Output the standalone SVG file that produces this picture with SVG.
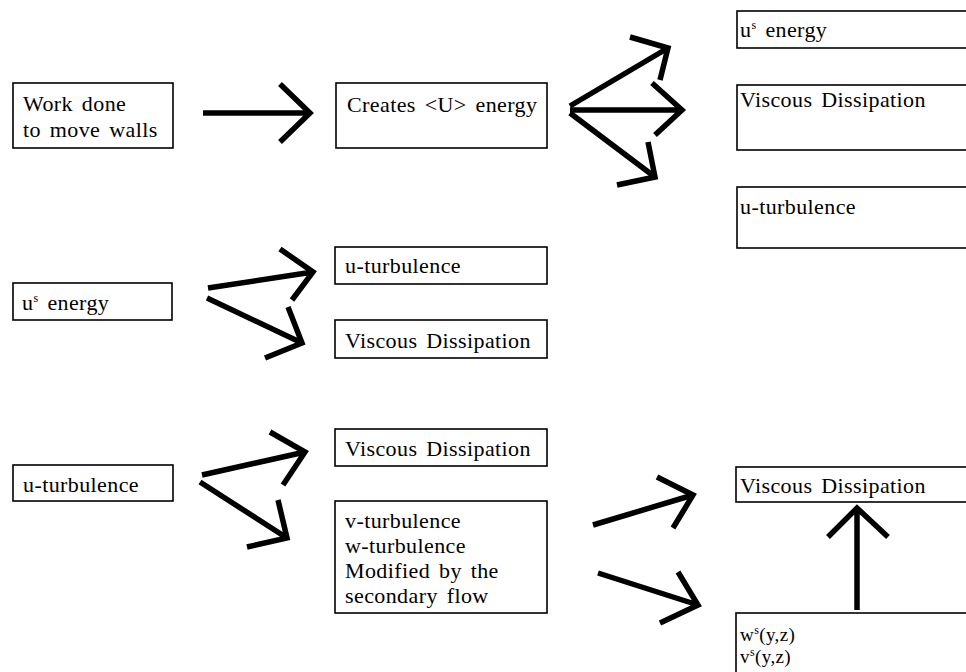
<svg xmlns="http://www.w3.org/2000/svg" width="966" height="672" viewBox="0 0 966 672">
<style>
.box{fill:#fff;stroke:#000;stroke-width:1.6}
text{font-family:"Liberation Serif","Times New Roman","DejaVu Serif",serif;font-size:22px;fill:#000;letter-spacing:0.4px;word-spacing:3px}
.sm{font-size:19px}
.sup{font-size:12px}
.a{fill:none;stroke:#000;stroke-width:5.5;stroke-linecap:butt;stroke-linejoin:miter}
</style>
<rect width="966" height="672" fill="#fff"/>
<g id="n1"><rect class="box" x="13" y="83" width="160" height="65"/><text x="23" y="111">Work done</text><text x="23" y="137">to move walls</text></g>
<g id="n2"><rect class="box" x="336" y="83" width="211" height="65"/><text x="347" y="112">Creates &lt;U&gt; energy</text></g>
<g id="n3"><rect class="box" x="737" y="11" width="240" height="37"/><text x="740" y="37">u<tspan class="sup" dy="-8">s</tspan><tspan dy="8"> energy</tspan></text></g>
<g id="n4"><rect class="box" x="737" y="85" width="240" height="65"/><text x="740" y="107">Viscous Dissipation</text></g>
<g id="n5"><rect class="box" x="737" y="187" width="240" height="61"/><text x="740" y="214">u-turbulence</text></g>
<g id="n6"><rect class="box" x="13" y="283" width="159" height="37"/><text x="22" y="310">u<tspan class="sup" dy="-8">s</tspan><tspan dy="8"> energy</tspan></text></g>
<g id="n7"><rect class="box" x="335" y="247" width="212" height="37"/><text x="345" y="273">u-turbulence</text></g>
<g id="n8"><rect class="box" x="335" y="320" width="212" height="38"/><text x="345" y="348">Viscous Dissipation</text></g>
<g id="n9"><rect class="box" x="13" y="465" width="160" height="36"/><text x="23" y="492">u-turbulence</text></g>
<g id="n10"><rect class="box" x="335" y="429" width="212" height="37"/><text x="345" y="456">Viscous Dissipation</text></g>
<g id="n11"><rect class="box" x="335" y="501" width="212" height="112"/><text x="345" y="528">v-turbulence</text><text x="345" y="553">w-turbulence</text><text x="345" y="578">Modified by the</text><text x="345" y="603">secondary flow</text></g>
<g id="n12"><rect class="box" x="736" y="467" width="240" height="35"/><text x="740" y="493">Viscous Dissipation</text></g>
<g id="n13"><rect class="box" x="736" y="613" width="240" height="70"/><text class="sm" x="740" y="641">w<tspan class="sup" dy="-7">s</tspan><tspan dy="7">(y,z)</tspan></text><text class="sm" x="740" y="663">v<tspan class="sup" dy="-7">s</tspan><tspan dy="7">(y,z)</tspan></text></g>
<g id="connectors">
<path class="a" d="M203 113H310M280 84L310 113L280 142"/>
<path class="a" d="M570 106L668 48M630 37L668 48L660 80"/>
<path class="a" d="M570 110H682M652 83L682 110L655 135"/>
<path class="a" d="M570 113L655 177M648 142L655 177L617 185"/>
<path class="a" d="M208 288L313 272M280 249L313 272L292 300"/>
<path class="a" d="M207 298L302 343M288 307L302 343L265 358"/>
<path class="a" d="M202 475L305 452M270 432L305 452L283 485"/>
<path class="a" d="M200 482L287 538M278 500L287 538L247 547"/>
<path class="a" d="M593 525L693 495M657 477L693 495L673 528"/>
<path class="a" d="M598 573L698 605M678 572L698 605L660 623"/>
<path class="a" d="M857 610V508M828 537L857 508L888 537"/>
</g>
</svg>
